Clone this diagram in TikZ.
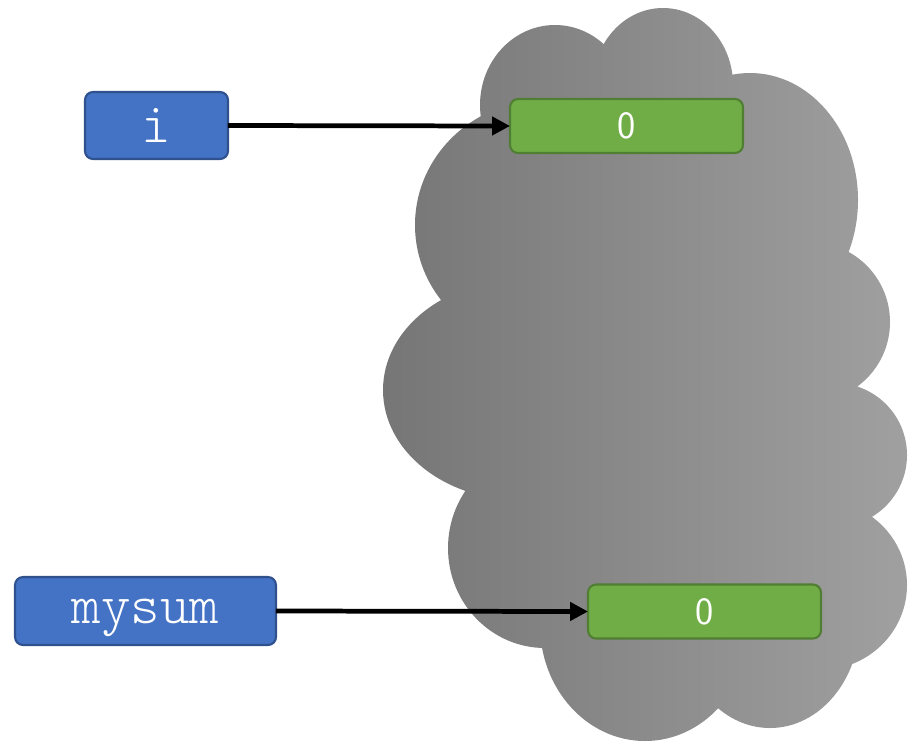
\documentclass[tikz,border=0pt]{standalone}
\usepackage{fontspec}
\newfontfamily\lmono{Latin Modern Mono Light}
\usetikzlibrary{arrows.meta}
\definecolor{boxblue}{HTML}{4472C4}
\definecolor{boxblueline}{HTML}{2F528F}
\definecolor{boxgreen}{HTML}{70AD47}
\definecolor{boxgreenline}{HTML}{507E32}
\definecolor{cloudL}{RGB}{118,118,118}
\definecolor{cloudR}{RGB}{160,160,160}
\tikzset{
  varbox/.style={draw=boxblueline, fill=boxblue, line width=1.2pt, rounded corners=0.16cm,
    text=white, inner sep=0pt, outer sep=0pt, text depth=0pt, font=\lmono\fontsize{32}{36}\selectfont},
  valbox/.style={draw=boxgreenline, fill=boxgreen, line width=1.2pt, rounded corners=0.16cm,
    text=white, inner sep=0pt, outer sep=0pt, minimum width=4.66cm, minimum height=1.08cm,
    font=\sffamily\fontsize{22}{24}\selectfont},
  ref/.style={line width=2.7pt, -{Triangle[length=0.36cm, width=0.36cm]}}
}
\begin{document}
\begin{tikzpicture}[x=0.02cm, y=-0.02cm]
\useasboundingbox (0,0) rectangle (915,741);
% cloud
\shade[left color=cloudL, right color=cloudR]
  (555,105) ellipse [x radius=75, y radius=80]
  (663,85) ellipse [x radius=70, y radius=77]
  (750,200) ellipse [x radius=108, y radius=127]
  (545,225) ellipse [x radius=130, y radius=125]
  (520,390) ellipse [x radius=137, y radius=110]
  (545,548) ellipse [x radius=97, y radius=100]
  (645,625) ellipse [x radius=105, y radius=116]
  (770,620) ellipse [x radius=90, y radius=108]
  (810,322) ellipse [x radius=80, y radius=80]
  (835,455) ellipse [x radius=72, y radius=72]
  (820,585) ellipse [x radius=87, y radius=85]
  (650,400) ellipse [x radius=180, y radius=250];
% nodes
\node[varbox, minimum width=2.86cm, minimum height=1.34cm] (i) at (156.5,125.5) {i};
\node[varbox, minimum width=5.22cm, minimum height=1.36cm] (mysum) at (145.5,611) {mysum};
\node[valbox] (v1) at (626.5,126) {0};
\node[valbox] (v2) at (704.5,611.5) {0};
% connectors
\draw[ref] (i.east) -- (v1.west);
\draw[ref] (mysum.east) -- (v2.west);
\end{tikzpicture}
\end{document}
